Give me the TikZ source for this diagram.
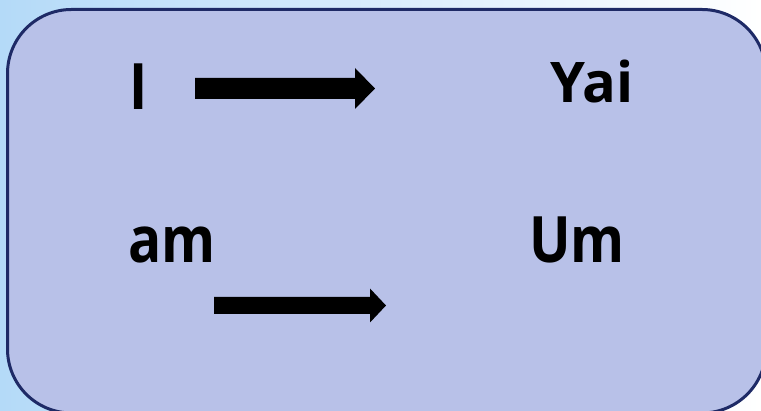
\documentclass[tikz,border=0pt]{standalone}
\usepackage{fontspec}
\setmainfont{Open Sans}
\newfontfamily\narrowfont[FakeStretch=0.86]{Open Sans}
\usetikzlibrary{calc}
\definecolor{boxfill}{RGB}{184,193,232}
\definecolor{boxline}{RGB}{30,42,102}
\definecolor{bgblue}{RGB}{180,218,248}
\tikzset{
  word/.style={anchor=base west, inner sep=0pt, font=\narrowfont\bfseries\fontsize{64}{64}\selectfont},
  wordsmall/.style={anchor=base west, inner sep=0pt, font=\bfseries\fontsize{56}{56}\selectfont},
  blockarrow/.style={fill=black}
}
\begin{document}
\begin{tikzpicture}[x=1pt,y=1pt]
\useasboundingbox (0,0) rectangle (761,411);
\shade[left color=bgblue, right color=white] (0,0) rectangle (761,411);
\draw[boxline, line width=3pt, fill=boxfill, rounded corners=64pt] (7.5,-2) rectangle (766,401.5);
\node[word] (i) at (129,301) {I};
\node[wordsmall] (yai) at (550,308) {Yai};
\node[word] (am) at (128,148) {am};
\node[word] (um) at (529,148) {Um};
\coordinate (a1s) at (195,322.5);
\coordinate (a1e) at (375,322.5);
\coordinate (a2s) at (214,105.5);
\coordinate (a2e) at (386,105.5);
\fill[blockarrow] ($(a1s)+(0,10.5)$) -- ($(a1e)+(-20,10.5)$) -- ($(a1e)+(-20,20.5)$) -- (a1e) -- ($(a1e)+(-20,-20.5)$) -- ($(a1e)+(-20,-10.5)$) -- ($(a1s)+(0,-10.5)$) -- cycle;
\fill[blockarrow] ($(a2s)+(0,8.5)$) -- ($(a2e)+(-16,8.5)$) -- ($(a2e)+(-16,17)$) -- (a2e) -- ($(a2e)+(-16,-17)$) -- ($(a2e)+(-16,-8.5)$) -- ($(a2s)+(0,-8.5)$) -- cycle;
\end{tikzpicture}
\end{document}
